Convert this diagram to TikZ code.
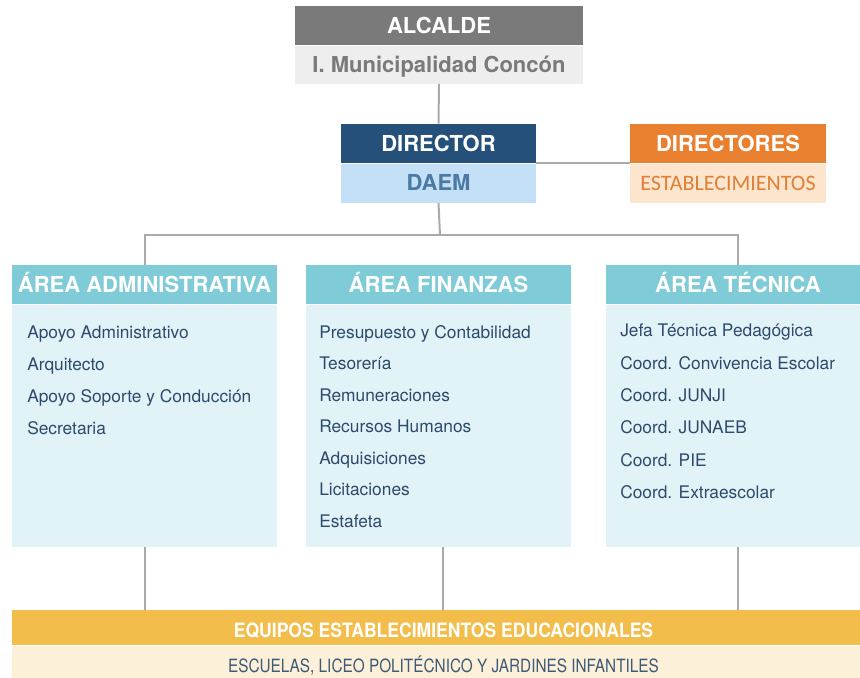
\documentclass[tikz,border=0pt]{standalone}
\usepackage{fontspec}
\setmainfont{TeX Gyre Heros}
\newfontfamily\condfont{Carlito}
\newfontfamily\bandfont[FakeStretch=0.89]{TeX Gyre Heros}
\newfontfamily\escufont[FakeStretch=0.84]{TeX Gyre Heros}
\usetikzlibrary{positioning}

\definecolor{alcgray}{HTML}{7A7A7A}
\definecolor{alclight}{HTML}{EEEEEE}
\definecolor{dirblue}{HTML}{24507A}
\definecolor{daemblue}{HTML}{C4E0F6}
\definecolor{daemtext}{HTML}{4C7AA3}
\definecolor{dirorange}{HTML}{E9802F}
\definecolor{estpeach}{HTML}{FCE4CD}
\definecolor{esttext}{HTML}{E07F36}
\definecolor{areateal}{HTML}{7FCBD7}
\definecolor{areabody}{HTML}{E1F3F7}
\definecolor{itemblue}{HTML}{2C4A6C}
\definecolor{bandyellow}{HTML}{F2BD4A}
\definecolor{bandcream}{HTML}{FDF0D9}
\definecolor{bandtext}{HTML}{3E5A78}
\definecolor{linegray}{HTML}{AAAAAA}

\begin{document}
\begin{tikzpicture}[x=0.75pt,y=-0.75pt,
	box/.style={rectangle, inner sep=0pt, text height=11.8pt, text depth=0pt, font=\bfseries\fontsize{16.5}{18}\selectfont},
	item/.style={anchor=base west, inner sep=0pt, text=itemblue, font=\fontsize{13}{14}\selectfont},
	link/.style={draw=linegray, line width=1.5pt}]
	\useasboundingbox (0,0) rectangle (860,678);

	% alcalde
	\node[box, fill=alcgray, text=white, minimum width=216pt, minimum height=29.25pt] (alc) at (439,25.5) {ALCALDE};
	\node[box, fill=alclight, text=alcgray, minimum width=216pt, minimum height=28.5pt, below=0pt of alc] (muni) {I. Municipalidad Concón};

	% director daem
	\node[box, fill=dirblue, text=white, minimum width=146.25pt, minimum height=29.25pt] (dir) at (438.5,143.5) {DIRECTOR};
	\node[box, fill=daemblue, text=daemtext, minimum width=146.25pt, minimum height=29.25pt, below=0pt of dir] (daem) {DAEM};
	\node[box, fill=dirorange, text=white, minimum width=147pt, minimum height=29.25pt] (dirs) at (728,143.5) {DIRECTORES};
	\node[box, fill=estpeach, text=esttext, minimum width=147pt, minimum height=29.25pt, text height=10.6pt, font=\condfont\fontsize{16.5}{18}\selectfont, below=0pt of dirs] (est) {ESTABLECIMIENTOS};

	% areas
	\node[box, fill=areateal, text=white, minimum width=198.75pt, minimum height=29.25pt] (admhead) at (144.5,284.5) {ÁREA ADMINISTRATIVA};
	\node[box, fill=areabody, minimum width=198.75pt, minimum height=181.5pt, below=0pt of admhead] (admbody) {};
	\node[box, fill=areateal, text=white, minimum width=198.75pt, minimum height=29.25pt] (finhead) at (438.5,284.5) {ÁREA FINANZAS};
	\node[box, fill=areabody, minimum width=198.75pt, minimum height=181.5pt, below=0pt of finhead] (finbody) {};
	\node[box, fill=areateal, text=white, minimum width=198.75pt, minimum height=29.25pt] (techead) at (738,284.5) {ÁREA TÉCNICA};
	\node[box, fill=areabody, minimum width=198.75pt, minimum height=181.5pt, below=0pt of techead] (tecbody) {};

	\node[item] (a1) at (27,338) {Apoyo Administrativo};
	\node[item] (a2) at (27,370) {Arquitecto};
	\node[item] (a3) at (27,402) {Apoyo Soporte y Conducción};
	\node[item] (a4) at (27,434) {Secretaria};

	\node[item] (f1) at (319,338) {Presupuesto y Contabilidad};
	\node[item] (f2) at (319,369.5) {Tesorería};
	\node[item] (f3) at (319,401) {Remuneraciones};
	\node[item] (f4) at (319,432.5) {Recursos Humanos};
	\node[item] (f5) at (319,464) {Adquisiciones};
	\node[item] (f6) at (319,495.5) {Licitaciones};
	\node[item] (f7) at (319,527) {Estafeta};

	\node[item] (t1) at (620,336.5) {Jefa Técnica Pedagógica};
	\node[item] (t2) at (620,369) {Coord. Convivencia Escolar};
	\node[item] (t3) at (620,401.5) {Coord. JUNJI};
	\node[item] (t4) at (620,433.5) {Coord. JUNAEB};
	\node[item] (t5) at (620,466) {Coord. PIE};
	\node[item] (t6) at (620,498) {Coord. Extraescolar};

	% equipos
	\node[box, fill=bandyellow, text=white, minimum width=647.25pt, minimum height=26.25pt, text height=14.3pt, font=\bandfont\bfseries\fontsize{14.8}{16}\selectfont] (band) at (443.5,627.5) {EQUIPOS ESTABLECIMIENTOS EDUCACIONALES};
	\node[box, fill=bandcream, text=bandtext, minimum width=647.25pt, minimum height=24.75pt, text height=15.7pt, font=\escufont\fontsize{13.7}{15}\selectfont, below=0pt of band] (escu) {ESCUELAS, LICEO POLITÉCNICO Y JARDINES INFANTILES};

	% connectors
	\coordinate (jn) at (440,235);
	\draw[link] (muni.south) -- (dir.north);
	\draw[link] (dir.south east) -- (dirs.south west);
	\draw[link] (daem.south) -- (jn);
	\draw[link] (admhead.north) |- (jn) -| (techead.north);
	\draw[link] (admbody.south) -- (admbody.south |- band.north);
	\draw[link] ([xshift=3pt]finbody.south) -- ([xshift=3pt]finbody.south |- band.north);
	\draw[link] (tecbody.south) -- (tecbody.south |- band.north);
\end{tikzpicture}
\end{document}
